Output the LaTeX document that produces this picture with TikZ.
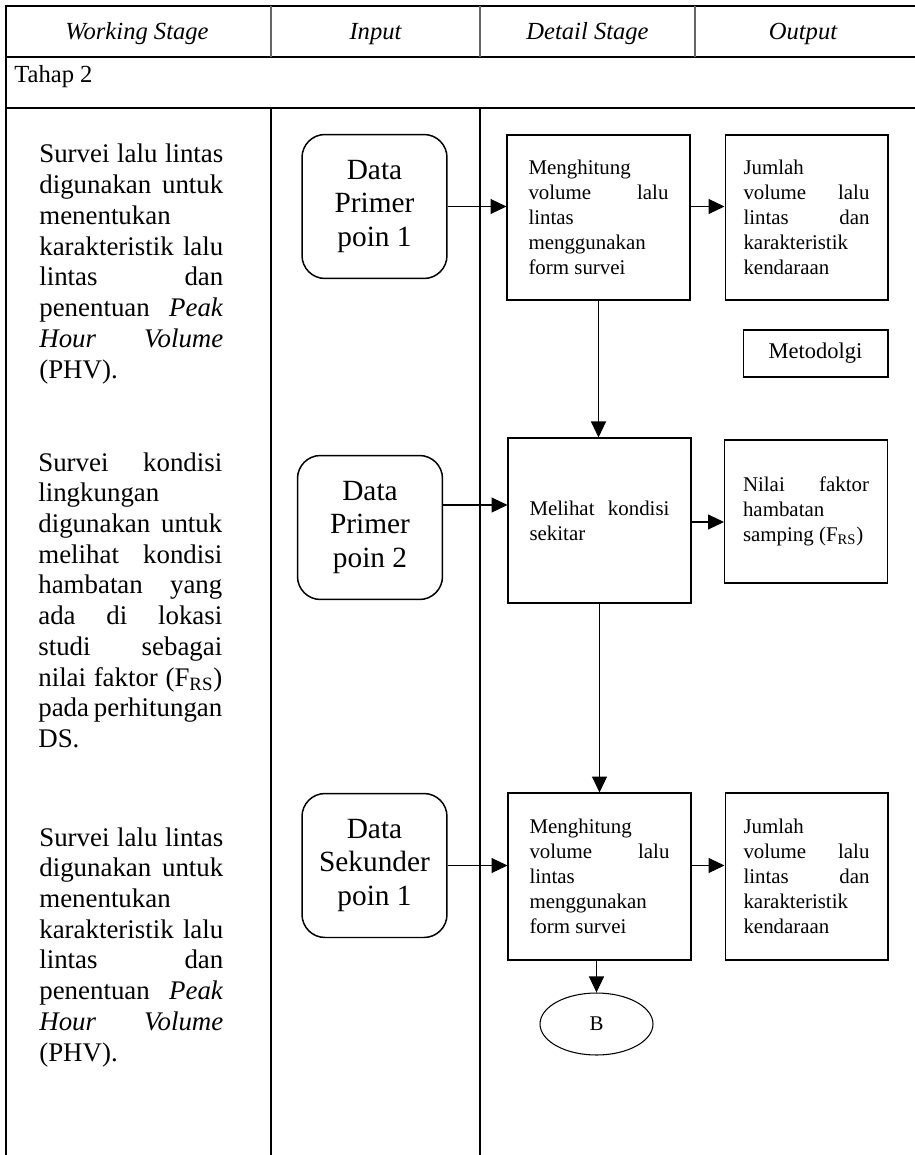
\documentclass[tikz,border=0pt]{standalone}
\usepackage{fontspec}
\setmainfont{Liberation Serif}
\usetikzlibrary{arrows.meta,shapes.geometric}
\newcommand{\colsz}{\fontsize{15.3}{17.5}\selectfont}
\newcommand{\boxsz}{\fontsize{11.9}{14.2}\selectfont}
\newcommand{\datsz}{\fontsize{16.7}{19.1}\selectfont}
\newcommand{\hdsz}{\fontsize{14}{16}\selectfont}
\newcommand{\metsz}{\fontsize{12.8}{15}\selectfont}
\newcommand{\jl}[1]{\makebox[\hsize][s]{#1}}

\begin{document}
\begin{tikzpicture}[x=0.02cm,y=-0.02cm,
   rule/.style={line width=1.1pt},
   hair/.style={line width=0.6pt,black!60},
   head/.style={font=\hdsz\itshape,anchor=base,inner sep=0pt},
   coltext/.style={text width=3.68cm,align=flush left,inner sep=0pt,anchor=base west,font=\colsz},
   databox/.style={draw,line width=0.85pt,rounded corners=0.46cm,minimum width=2.9cm,minimum height=2.88cm,align=center,font=\datsz,inner sep=0pt},
   procbox/.style={draw,line width=0.6pt,minimum width=3.66cm,minimum height=3.3cm,text width=2.8cm,align=flush left,font=\boxsz,inner sep=0pt},
   outbox/.style={procbox,minimum width=3.26cm,text width=2.52cm},
   arr/.style={line width=0.6pt,-{Triangle[length=0.32cm,width=0.3cm]}}]
   \useasboundingbox (0,0) rectangle (915,1155);
   % table
   \draw[rule] (5,6) -- (915,6);
   \draw[rule] (5,57) -- (915,57);
   \draw[rule] (5,108) -- (915,108);
   \draw[rule] (6,5) -- (6,1155);
   \draw[hair] (271,6) -- (271,57);
   \draw[hair] (480,6) -- (480,57);
   \draw[hair] (695,6) -- (695,57);
   \draw[rule] (271,108) -- (271,1155);
   \draw[rule] (480,108) -- (480,1155);
   \node[head] (hws)  at (137,40) {Working Stage};
   \node[head] (hin)  at (375.5,40) {Input};
   \node[head] (hds)  at (587.5,40) {Detail Stage};
   \node[head] (hout) at (803,40) {Output};
   \node[font=\hdsz,anchor=base west,inner sep=0pt] (thp) at (14,83) {Tahap 2};
   % working stage
   \node[coltext] (ws1) at (39,163)
    {\jl{Survei lalu lintas}\\ \jl{digunakan untuk}\\ menentukan\\
     \jl{karakteristik lalu}\\ \jl{lintas dan}\\ \jl{penentuan \textit{Peak}}\\
     \jl{\textit{Hour Volume}}\\ (PHV).};
   \node[coltext] (ws2) at (38,471)
    {\jl{Survei kondisi}\\ lingkungan\\ \jl{digunakan untuk}\\ \jl{melihat kondisi}\\
     \jl{hambatan yang}\\ \jl{ada di lokasi}\\ \jl{studi sebagai}\\
     \jl{nilai faktor (F\textsubscript{RS})}\\ \jl{pada perhitungan}\\ DS.};
   \node[coltext] (ws3) at (39,846)
    {\jl{Survei lalu lintas}\\ \jl{digunakan untuk}\\ menentukan\\
     \jl{karakteristik lalu}\\ \jl{lintas dan}\\ \jl{penentuan \textit{Peak}}\\
     \jl{\textit{Hour Volume}}\\ (PHV).};
   % input
   \node[databox] (dp1) at (374.5,206.5) {Data\\Primer\\poin 1};
   \node[databox] (dp2) at (370,527.5) {Data\\Primer\\poin 2};
   \node[databox] (ds1) at (374.5,865.5) {Data\\Sekunder\\poin 1};
   % detail stage and output
   \node[procbox] (m1) at (598.5,217.5)
    {Menghitung\\ \jl{volume lalu}\\ lintas\\ menggunakan\\ form survei};
   \node[outbox] (o1) at (806.5,217.5)
    {Jumlah\\ \jl{volume lalu}\\ \jl{lintas dan}\\ karakteristik\\ kendaraan};
   \node[draw,line width=0.6pt,minimum width=2.9cm,minimum height=0.94cm,font=\metsz,inner sep=0pt] (met) at (815.5,353.5) {Metodolgi};
   \node[procbox] (mel) at (599.5,520.5) {\jl{Melihat kondisi}\\ sekitar};
   \node[outbox,minimum height=2.86cm] (nil) at (806,511.5)
    {\jl{Nilai faktor}\\ hambatan\\ samping (F\textsubscript{RS})};
   \node[procbox,minimum height=3.34cm] (m2) at (599.5,876.5)
    {Menghitung\\ \jl{volume lalu}\\ lintas\\ menggunakan\\ form survei};
   \node[outbox,minimum height=3.34cm] (o2) at (806.5,876.5)
    {Jumlah\\ \jl{volume lalu}\\ \jl{lintas dan}\\ karakteristik\\ kendaraan};
   \node[draw,ellipse,line width=0.6pt,minimum width=2.26cm,minimum height=1.24cm,font=\boxsz,inner sep=0pt] (b) at (596.5,1024) {B};
   % arrows
   \draw[arr] (dp1.east) -- (dp1.east -| m1.west);
   \draw[arr] (m1.east |- dp1.east) -- (o1.west |- dp1.east);
   \draw[arr] (m1.south) -- (m1.south |- mel.north);
   \draw[arr] (dp2.east |- 0,505) -- (mel.west |- 0,505);
   \draw[arr] (mel.east |- 0,522) -- (nil.west |- 0,522);
   \draw[arr] (mel.south) -- (mel.south |- m2.north);
   \draw[arr] (ds1.east) -- (ds1.east -| m2.west);
   \draw[arr] (m2.east |- ds1.east) -- (o2.west |- ds1.east);
   \draw[arr] (b.north |- m2.south) -- (b.north);
\end{tikzpicture}
\end{document}
